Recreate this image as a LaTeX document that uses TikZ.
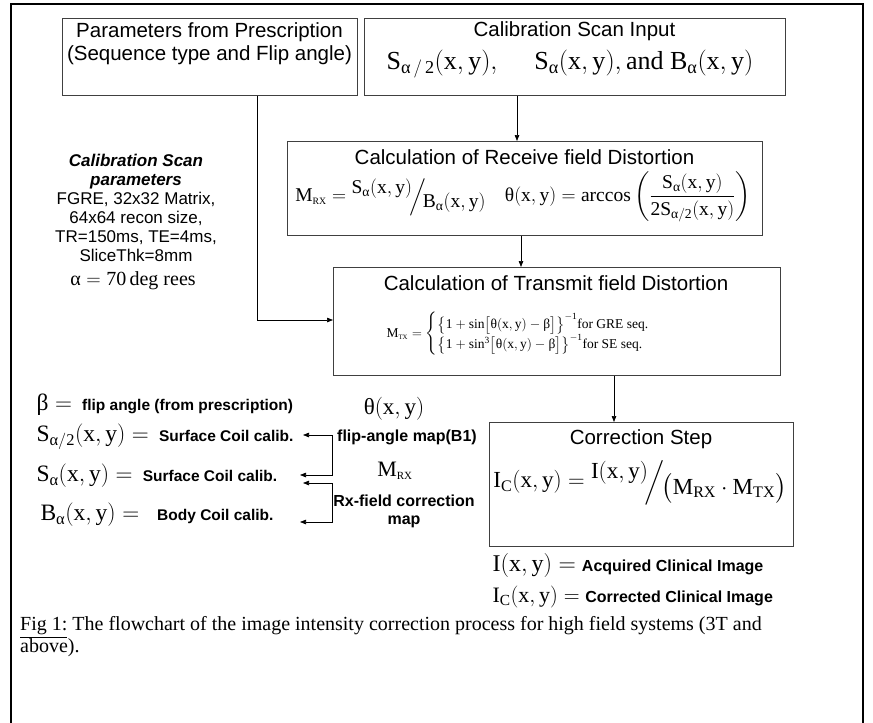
\RequirePackage{fix-cm}
\documentclass[tikz,border=0pt]{standalone}
\usepackage{fontspec}
\usepackage{amsmath}
\setmainfont{Liberation Serif}
\newfontfamily\arial{Liberation Sans}
\usetikzlibrary{arrows.meta}

\newcommand{\fsz}[1]{\fontsize{#1}{#1}\selectfont}
\newcommand{\ga}{\textrm{α}}
\newcommand{\gb}{\textrm{β}}
\newcommand{\gt}{\textrm{θ}}
\newcommand{\xy}{(\mathrm{x},\mathrm{y})}
\newcommand{\slfrac}[2]{\raisebox{0.4em}{$#1$}\kern-0.15em\raisebox{-0.05em}{$\Big/$}\kern-0.15em\raisebox{-0.3em}{$#2$}}

\begin{document}
\begin{tikzpicture}[x=1pt,y=-1pt,
    box/.style={draw=black!75,line width=0.9pt,anchor=north west,inner sep=0pt},
    ttl/.style={font=\arial\fontsize{20.5}{23}\selectfont},
    rlbl/.style={font=\arial\bfseries\fontsize{16}{18}\selectfont},
    arr/.style={-{Triangle[length=6pt,width=4.5pt]},line width=0.7pt},
    dbl/.style={{Triangle[length=6pt,width=4.5pt]}-{Triangle[length=6pt,width=4.5pt]},line width=0.7pt}]
    \useasboundingbox (0,0) rectangle (873,723);
    % frame
    \draw[line width=1.8pt] (11,723) -- (11,4) -- (863,4) -- (863,723);

    % boxes
    \node[box,minimum width=295pt,minimum height=77pt] (presc) at (62,18) {};
    \node[box,minimum width=421pt,minimum height=77pt] (cal) at (364,18) {};
    \node[box,minimum width=475pt,minimum height=94pt] (rx) at (287,141) {};
    \node[box,minimum width=447pt,minimum height=108pt] (tx) at (333,267) {};
    \node[box,minimum width=304pt,minimum height=124pt] (corr) at (489,422) {};

    \node[ttl,align=center] (prescT) at (209.5,44) {Parameters from Prescription\\(Sequence type and Flip angle)};
    \node[ttl] (calT) at (574.5,31) {Calibration Scan Input};
    \node[font=\fsz{26}] (calF) at (570,64) {$\mathrm{S}_{\ga\,/\,\mathrm{2}}\xy,\quad\ \mathrm{S}_{\ga}\xy,\textrm{and }\mathrm{B}_{\ga}\xy$};
    \node[ttl] (rxT) at (524.5,157) {Calculation of Receive field Distortion};
    \node[font=\fsz{19.5}] (rxF) at (523,197) {$\mathrm{M}_{\scriptscriptstyle\mathrm{RX}}=\slfrac{\mathrm{S}_{\ga}\xy}{\mathrm{B}_{\ga}\xy}\quad\gt\xy=\mathrm{arccos}\left(\dfrac{\mathrm{S}_{\ga}\xy}{\mathrm{2S}_{\ga/\mathrm{2}}\xy}\right)$};
    \node[ttl] (txT) at (556,283) {Calculation of Transmit field Distortion};
    \node[font=\fsz{13.5},anchor=west] (txF) at (383,334) {\renewcommand{\arraystretch}{1.35}$\mathrm{M}_{\scriptscriptstyle\mathrm{TX}}=\left\{\begin{array}{@{}l@{}}\bigl\{\mathrm{1}+\sin\bigl[\gt\xy-\gb\bigr]\bigr\}^{-\mathrm{1}}\textrm{for GRE seq.}\\ \bigl\{\mathrm{1}+\sin^{\mathrm{3}}\bigl[\gt\xy-\gb\bigr]\bigr\}^{-\mathrm{1}}\textrm{for SE seq.}\end{array}\right.$};
    \node[ttl] (corrT) at (641,439) {Correction Step};
    \node[font=\fsz{23}] (corrF) at (640,483) {$\mathrm{I}_{\mathrm{C}}\xy=\slfrac{\mathrm{I}\xy}{\bigl(\mathrm{M}_{\mathrm{RX}}\cdot\mathrm{M}_{\mathrm{TX}}\bigr)}$};

    % flow arrows
    \coordinate (k1) at (257,320);
    \coordinate (k2) at (517,0);
    \coordinate (k3) at (521,0);
    \coordinate (k4) at (614,0);
    \draw[arr] (presc.south -| k1) |- (tx.west |- k1);
    \draw[arr] (cal.south -| k2) -- (rx.north -| k2);
    \draw[arr] (rx.south -| k3) -- (tx.north -| k3);
    \draw[arr] (tx.south -| k4) -- (corr.north -| k4);

    % scan parameters
    \node[font=\arial\fontsize{17}{19}\selectfont,align=center,anchor=north,inner sep=0pt] (cpar) at (136,154) {\textbf{\textit{Calibration Scan}}\\\textbf{\textit{parameters}}\\FGRE, 32x32 Matrix,\\64x64 recon size,\\TR=150ms, TE=4ms,\\SliceThk=8mm};
    \node[font=\fsz{20}] (alpha) at (133,281) {$\ga=\mathrm{70}\,\mathrm{deg\ rees}$};

    % legend
    \node[anchor=west,font=\fsz{23.5}] (beta) at (33,405) {$\gb=$ {\arial\bfseries\fsz{15.5} flip angle (from prescription)}};
    \node[anchor=west,font=\fsz{23.5}] (shalf) at (33,437) {$\mathrm{S}_{\ga/\mathrm{2}}\xy=$ {\arial\bfseries\fsz{15.5} Surface Coil calib.}};
    \node[anchor=west,font=\fsz{23.5}] (sfull) at (33,476) {$\mathrm{S}_{\ga}\xy=$ {\arial\bfseries\fsz{15.5} Surface Coil calib.}};
    \node[anchor=west,font=\fsz{23.5}] (bfull) at (37,515) {$\mathrm{B}_{\ga}\xy=$\hspace{18pt}{\arial\bfseries\fsz{15.5}Body Coil calib.}};

    \coordinate (a1) at (303,435);
    \coordinate (t1) at (332,435);
    \coordinate (t2) at (332,475);
    \coordinate (a2) at (300,475);
    \coordinate (a3) at (303,483);
    \coordinate (t3) at (332,483);
    \coordinate (t4) at (332,522);
    \coordinate (a4) at (300,522);
    \draw[dbl] (a1) -- (t1) -- (t2) -- (a2);
    \draw[dbl] (a3) -- (t3) -- (t4) -- (a4);

    \node[font=\fsz{23}] (theta) at (394,409) {$\gt\xy$};
    \node[rlbl] (flip) at (407,437) {flip-angle map(B1)};
    \node[font=\fsz{22}] (mrx) at (395,471) {$\mathrm{M}_{\scriptscriptstyle\mathrm{RX}}$};
    \node[rlbl,align=center] (rxmap) at (404,511) {Rx-field correction\\map};

    % images
    \node[anchor=west,font=\fsz{24}] (acq) at (489,565) {$\mathrm{I}\xy=$ {\arial\bfseries\fsz{16}Acquired Clinical Image}};
    \node[anchor=west,font=\fsz{22}] (corrd) at (489,597) {$\mathrm{I}_{\mathrm{C}}\xy=$ {\arial\bfseries\fsz{16}Corrected Clinical Image}};

    % caption
    \node[anchor=north west,font=\fontsize{20}{22.5}\selectfont,align=left,inner sep=0pt] (cap) at (20,616) {\underline{Fig 1:} The flowchart of the image intensity correction process for high field systems (3T and\\above).};
\end{tikzpicture}
\end{document}
